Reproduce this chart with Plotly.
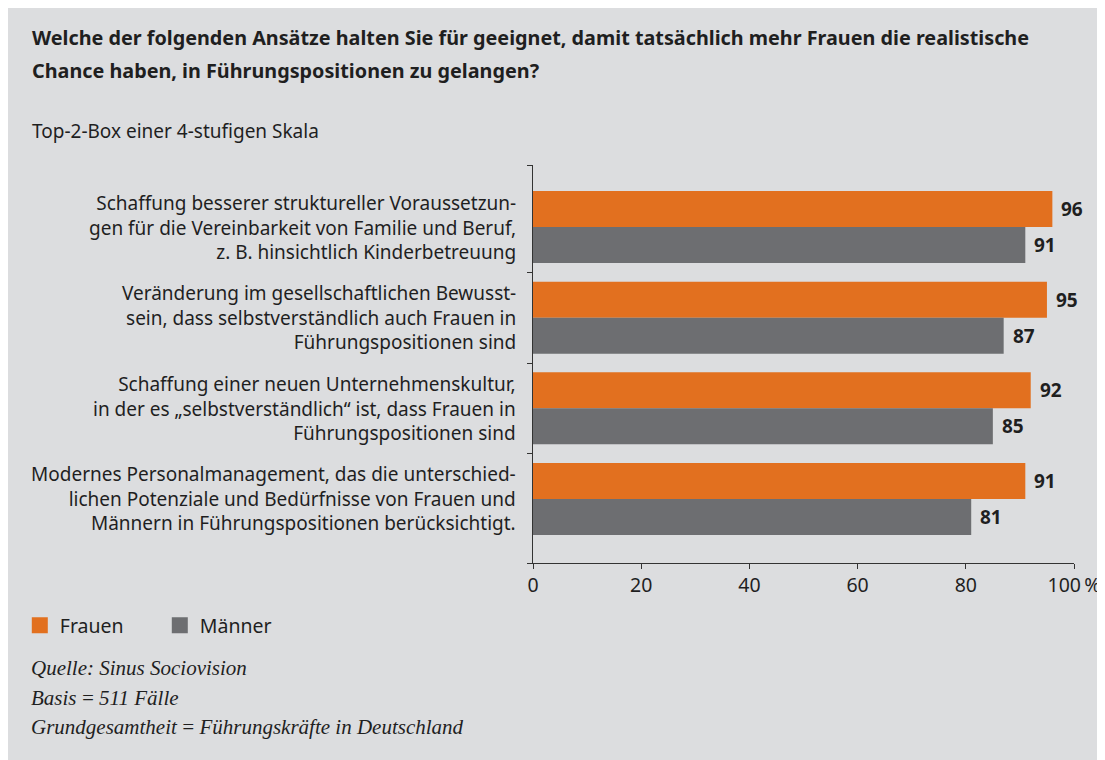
import plotly.graph_objects as go

# ---- data ----
categories = [
    "Schaffung besserer struktureller Voraussetzun-<br>gen für die Vereinbarkeit von Familie und Beruf,<br>z. B. hinsichtlich Kinderbetreuung",
    "Veränderung im gesellschaftlichen Bewusst-<br>sein, dass selbstverständlich auch Frauen in<br>Führungspositionen sind",
    "Schaffung einer neuen Unternehmenskultur,<br>in der es „selbstverständlich“ ist, dass Frauen in<br>Führungspositionen sind",
    "Modernes Personalmanagement, das die unterschied-<br>lichen Potenziale und Bedürfnisse von Frauen und<br>Männern in Führungspositionen berücksichtigt.",
]
frauen = [96, 95, 92, 91]
maenner = [91, 87, 85, 81]
x_tickvals = [0, 20, 40, 60, 80, 100]
x_ticktext = ["0", "20", "40", "60", "80", "100\u2009%"]
title_lines = [
    "Welche der folgenden Ansätze halten Sie für geeignet, damit tatsächlich mehr Frauen die realistische",
    "Chance haben, in Führungspositionen zu gelangen?",
]
subtitle = "Top-2-Box einer 4-stufigen Skala"
footnotes = [
    "Quelle: Sinus Sociovision",
    "Basis\u2009=\u2009511 Fälle",
    "Grundgesamtheit\u2009=\u2009Führungskräfte in Deutschland",
]

# ---- layout geometry (figure sits at the page's 8px body margin) ----
W, H = 1105, 760
OFF = 8
L, R, T, B = 521, 39, 157, 205
PW, PH = W - L - R, H - T - B


def px_x(screen_x):
    return (screen_x - OFF - L) / PW


def px_y(screen_y):
    return (H - B - (screen_y - OFF)) / PH


ORANGE = "#e2701f"
GREY = "#6d6e71"
BG = "#dcdddf"
TXT = "#1f1f1f"
SANS = "Noto Sans"
SERIF = "Liberation Serif"

ypos = list(range(len(categories)))
y_lo, y_hi = -0.684, 3.706

fig = go.Figure()
fig.add_trace(go.Bar(name="Frauen", y=ypos, x=frauen, orientation="h", showlegend=False,
                     marker=dict(color=ORANGE, line=dict(width=0))))
fig.add_trace(go.Bar(name="Männer", y=ypos, x=maenner, orientation="h", showlegend=False,
                     marker=dict(color=GREY, line=dict(width=0))))
for name, col in [("Frauen", ORANGE), ("Männer", GREY)]:
    fig.add_trace(go.Scatter(name=name, x=[None], y=[None], mode="markers",
                             marker=dict(symbol="square", size=16, color=col),
                             showlegend=True, hoverinfo="skip"))

annotations = []
off = 0.198
for i, (f, m) in enumerate(zip(frauen, maenner)):
    for v, dy in [(f, -off), (m, off)]:
        annotations.append(dict(x=v, y=i + dy, xref="x", yref="y", text=f"<b>{v}</b>",
                                showarrow=False, xanchor="left", yanchor="middle", xshift=7,
                                font=dict(family=SANS, size=19, color=TXT)))
for i, c in enumerate(categories):
    annotations.append(dict(x=px_x(514), y=i, xref="paper", yref="y", text=c,
                            showarrow=False, xanchor="right", yanchor="middle", align="right",
                            font=dict(family=SANS, size=19, color=TXT)))
for line, py in zip(title_lines, [38, 70]):
    annotations.append(dict(x=px_x(22), y=px_y(py), xref="paper", yref="paper",
                            text=f"<b>{line}</b>", showarrow=False, xanchor="left",
                            yanchor="middle", font=dict(family=SANS, size=19.8, color=TXT)))
annotations.append(dict(x=px_x(22), y=px_y(131), xref="paper", yref="paper", text=subtitle,
                        showarrow=False, xanchor="left", yanchor="middle",
                        font=dict(family=SANS, size=19, color=TXT)))
for line, py in zip(footnotes, [668, 698, 727]):
    annotations.append(dict(x=px_x(21), y=px_y(py), xref="paper", yref="paper",
                            text=f"<i>{line}</i>", showarrow=False, xanchor="left",
                            yanchor="middle", font=dict(family=SERIF, size=21, color=TXT)))

fig.update_layout(
    width=W, height=H,
    margin=dict(l=L, r=R, t=T, b=B, pad=0),
    paper_bgcolor=BG,
    plot_bgcolor=BG,
    barmode="group", bargap=0.206, bargroupgap=0,
    showlegend=True,
    legend=dict(orientation="h", x=px_x(12), y=px_y(606), xanchor="left", yanchor="top",
                font=dict(family=SANS, size=19.5, color=TXT), bgcolor="rgba(0,0,0,0)",
                entrywidth=95, traceorder="normal", itemclick=False, itemdoubleclick=False),
    annotations=annotations,
    xaxis=dict(range=[0, 100], tickvals=x_tickvals, ticktext=x_ticktext,
               showgrid=False, zeroline=False, showline=True, linecolor="#333",
               linewidth=1, ticks="outside", ticklen=5, tickcolor="#333",
               tickfont=dict(family=SANS, size=19.5, color=TXT)),
    yaxis=dict(range=[y_hi, y_lo], tickvals=[y_lo, 0.5, 1.5, 2.5, y_hi],
               showticklabels=False, showgrid=False, zeroline=False, showline=True,
               linecolor="#333", linewidth=1, ticks="outside", ticklen=5, tickcolor="#333"),
    font=dict(family=SANS, color=TXT),
)

fig.write_html("out.html")
